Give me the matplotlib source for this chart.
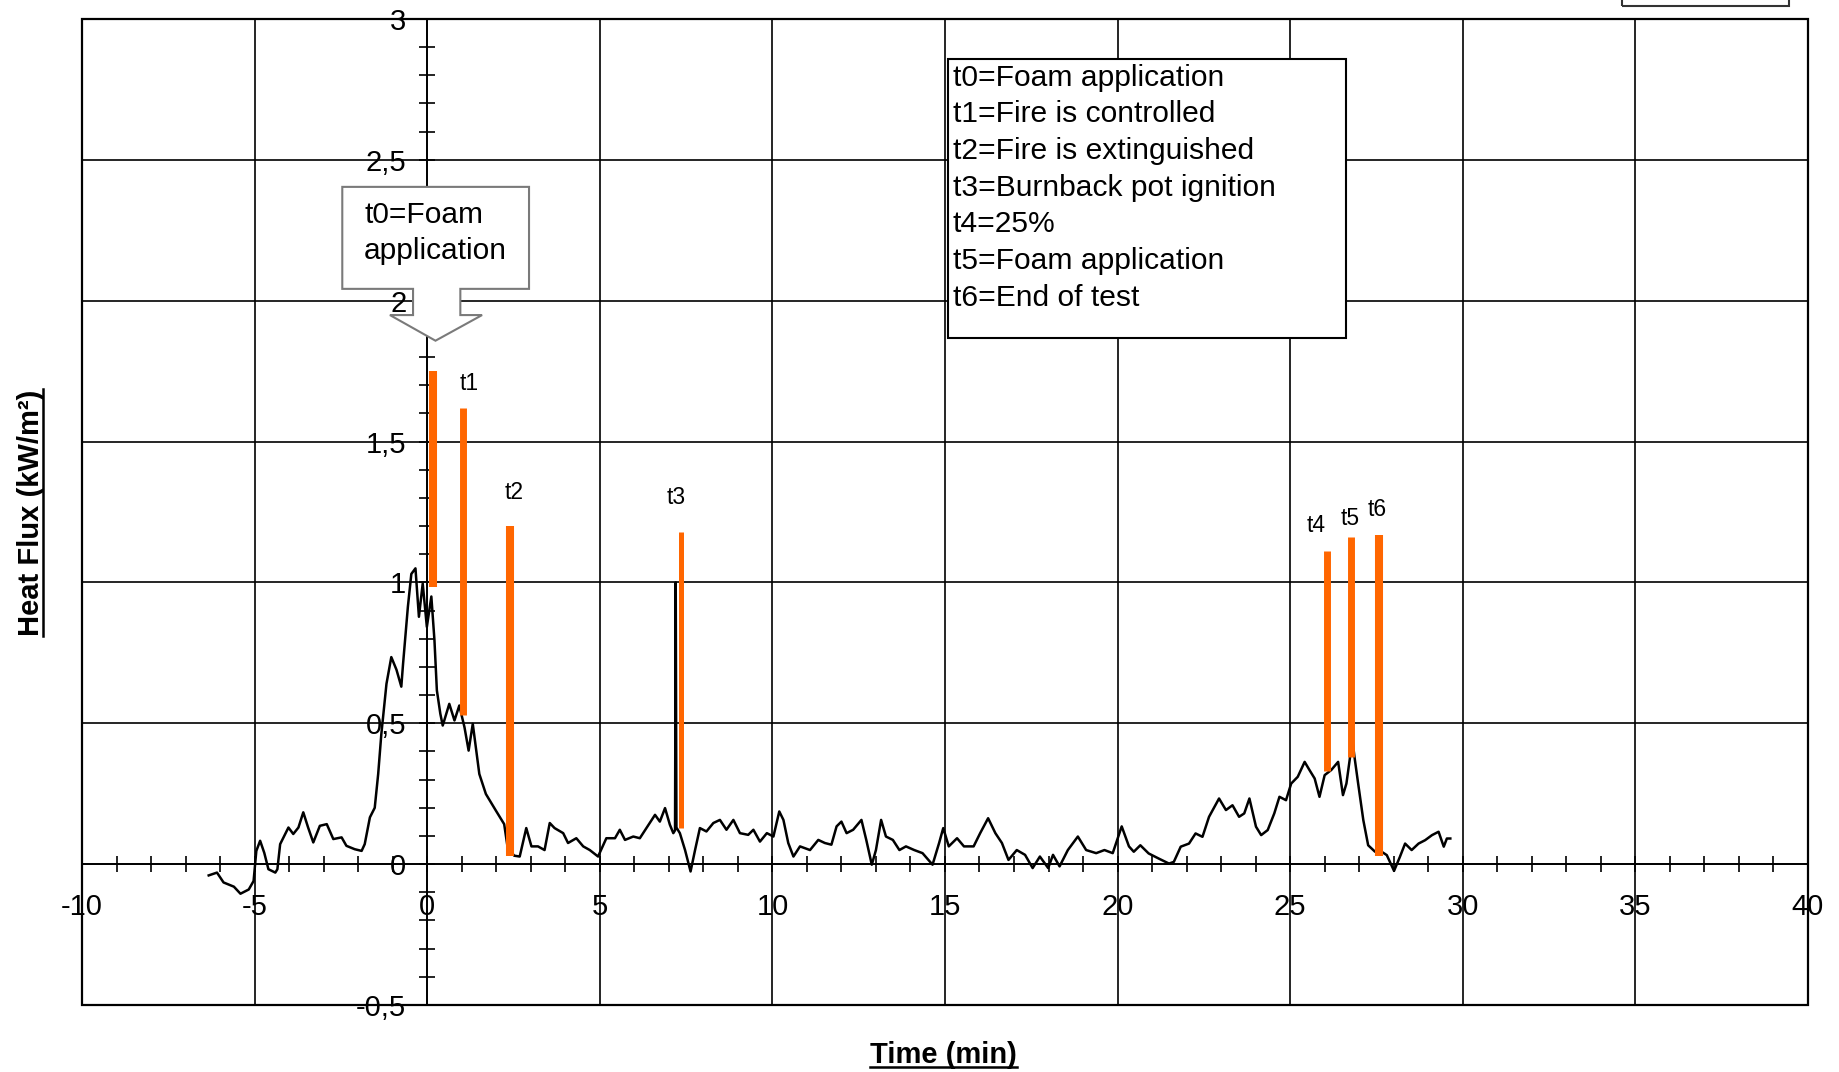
import numpy as np
import matplotlib.pyplot as plt
from matplotlib.patches import Polygon, Rectangle
from matplotlib.lines import Line2D
from matplotlib.ticker import MultipleLocator, FuncFormatter

plt.rcParams['font.family'] = ['Liberation Sans', 'DejaVu Sans']

# heat flux curve
time_min = [
    -6.33, -6.09, -5.9, -5.6, -5.41, -5.17, -5.03, -4.95, -4.84, -4.72,
    -4.6, -4.4, -4.34, -4.26, -4.02, -3.88, -3.73, -3.59, -3.45, -3.3,
    -3.11, -2.91, -2.72, -2.48, -2.34, -2.1, -1.9, -1.81, -1.66, -1.52,
    -1.42, -1.33, -1.23, -1.18, -1.04, -0.89, -0.75, -0.7, -0.56, -0.46,
    -0.34, -0.24, -0.13, -0.01, 0.12, 0.21, 0.28, 0.38, 0.45, 0.64,
    0.79, 0.93, 1.08, 1.2, 1.32, 1.51, 1.7, 1.99, 2.23, 2.33, 2.52,
    2.68, 2.87, 3.02, 3.21, 3.4, 3.55, 3.69, 3.94, 4.08, 4.32,
    4.52, 4.71, 4.95, 5.19, 5.44, 5.58, 5.73, 5.97, 6.16, 6.35,
    6.6, 6.74, 6.89, 7.03, 7.13, 7.18, 7.2, 7.22, 7.32, 7.47,
    7.63, 7.76, 7.9, 8.09, 8.29, 8.48, 8.67, 8.87, 9.06, 9.3,
    9.45, 9.64, 9.84, 10.03, 10.2, 10.32, 10.46, 10.61, 10.8, 11.09,
    11.33, 11.52, 11.71, 11.86, 12.0, 12.15, 12.34, 12.58, 12.72, 12.88,
    13.0, 13.15, 13.29, 13.49, 13.68, 13.87, 14.11, 14.35, 14.64, 14.83,
    14.95, 15.11, 15.35, 15.55, 15.83, 16.02, 16.25, 16.46, 16.65, 16.84,
    17.08, 17.32, 17.54, 17.75, 17.99, 18.13, 18.32, 18.56, 18.85, 19.09,
    19.38, 19.62, 19.86, 20.12, 20.33,
    20.47, 20.66, 20.9, 21.19, 21.49, 21.63, 21.83, 22.07, 22.26, 22.46,
    22.65, 22.94, 23.14, 23.33, 23.52, 23.67, 23.82, 24.01, 24.16, 24.35,
    24.54, 24.69, 24.88, 25.03, 25.22, 25.42, 25.56, 25.71, 25.85, 26.0,
    26.19, 26.39, 26.53, 26.63, 26.73, 26.78, 26.87, 26.97, 27.12, 27.26,
    27.46, 27.65, 27.8, 28.01, 28.18, 28.33, 28.52, 28.72, 28.91, 29.11,
    29.3, 29.45, 29.54, 29.64]
heat_flux = [
    -0.04, -0.03, -0.065, -0.08, -0.105, -0.09, -0.06, 0.047, 0.083, 0.04,
    -0.018, -0.03, -0.018, 0.071, 0.13, 0.107, 0.13, 0.184, 0.13, 0.077,
    0.136, 0.142, 0.089, 0.095, 0.065, 0.053, 0.047, 0.071, 0.166, 0.2,
    0.32, 0.46, 0.58, 0.64, 0.735, 0.69, 0.63, 0.71, 0.913, 1.03,
    1.05, 0.878, 0.996, 0.842, 0.95, 0.795, 0.617, 0.534, 0.492, 0.569,
    0.51, 0.563, 0.486, 0.403, 0.498, 0.32, 0.249, 0.19, 0.142, 0.059, 0.03,
    0.027, 0.128, 0.063, 0.063, 0.05, 0.146, 0.128, 0.11, 0.075, 0.092,
    0.063, 0.05, 0.027, 0.092, 0.092, 0.122, 0.086, 0.098, 0.092, 0.128,
    0.175, 0.151, 0.199, 0.14, 0.11, 0.12, 1.0, 0.13, 0.11, 0.05,
    -0.026, 0.05, 0.128, 0.116, 0.146, 0.157, 0.122, 0.157, 0.11, 0.104,
    0.122, 0.08, 0.11, 0.098, 0.187, 0.157, 0.075, 0.027, 0.063, 0.05,
    0.086, 0.075, 0.069, 0.134, 0.151, 0.11, 0.122, 0.157, 0.086, -0.002,
    0.05, 0.157, 0.098, 0.086, 0.05, 0.063, 0.05, 0.039, -0.002, 0.075,
    0.128, 0.063, 0.092, 0.063, 0.063, 0.11, 0.163, 0.11, 0.075, 0.015,
    0.05, 0.033, -0.014, 0.027, -0.014, 0.033, -0.008, 0.05, 0.098, 0.05,
    0.039, 0.05, 0.039, 0.134, 0.063,
    0.044, 0.067, 0.038, 0.02, 0.002, 0.008, 0.062, 0.073, 0.109, 0.097,
    0.168, 0.233, 0.192, 0.209, 0.168, 0.18, 0.233, 0.133, 0.103, 0.121,
    0.18, 0.239, 0.227, 0.286, 0.31, 0.363, 0.334, 0.304, 0.239, 0.316,
    0.334, 0.363, 0.245, 0.286, 0.375, 0.464, 0.375, 0.286, 0.156, 0.067,
    0.044, 0.044, 0.032, -0.024, 0.026, 0.073, 0.05, 0.073, 0.085, 0.103,
    0.115, 0.062, 0.091, 0.091]

# event markers (orange bars)
event_names = ['t0', 't1', 't2', 't3', 't4', 't5', 't6']
event_time = [0.16, 1.04, 2.40, 7.35, 26.07, 26.76, 27.58]
event_top = [1.75, 1.62, 1.20, 1.18, 1.11, 1.16, 1.17]
event_bottom = [0.985, 0.53, 0.03, 0.13, 0.33, 0.38, 0.03]
label_time = [None, 1.22, 2.51, 7.20, 25.75, 26.74, 27.52]
label_flux = [None, 1.706, 1.318, 1.302, 1.202, 1.227, 1.260]
bar_lw = [5.8, 5.0, 5.8, 3.6, 5.0, 5.0, 5.8]

legend_lines = ['t0=Foam application', 't1=Fire is controlled',
                't2=Fire is extinguished', 't3=Burnback pot ignition',
                't4=25%', 't5=Foam application', 't6=End of test']

fig = plt.figure(figsize=(18.39, 10.72), dpi=100)
ax = fig.add_axes([0.0446, 0.0625, 0.9385, 0.9198])

ax.set_xlim(-10, 40)
ax.set_ylim(-0.5, 3)

ax.plot(time_min, heat_flux, color='black', lw=1.8, zorder=3)

for i in range(len(event_names)):
    ax.vlines(event_time[i], event_bottom[i], event_top[i], color='#ff6600',
              lw=bar_lw[i], zorder=4)
    if label_time[i] is not None:
        ax.text(label_time[i], label_flux[i], event_names[i], fontsize=16.5,
                ha='center', va='center', zorder=5)

# callout arrow for t0
callout = [(-2.46, 2.404), (2.95, 2.404), (2.95, 2.042), (0.96, 2.042),
           (0.96, 1.949), (1.59, 1.949), (0.24, 1.858), (-1.08, 1.949),
           (-0.41, 1.949), (-0.41, 2.042), (-2.46, 2.042)]
ax.add_patch(Polygon(callout, closed=True, fc='white', ec='#7a7a7a', lw=1.5, zorder=6))
ax.text(-1.83, 2.305, 't0=Foam', fontsize=21.5, va='center', zorder=7)
ax.text(-1.83, 2.176, 'application', fontsize=21.5, va='center', zorder=7)

# legend text box
ax.add_patch(Rectangle((15.08, 1.868), 11.55, 0.991, fc='white', ec='black',
                       lw=1.5, zorder=6))
for k, line in enumerate(legend_lines):
    ax.text(15.22, 2.792 - k * 0.1303, line, fontsize=21.6, va='center', zorder=7)

# axes through the origin, full frame around
ax.spines['left'].set_position(('data', 0))
ax.spines['bottom'].set_position(('data', 0))
for s in ax.spines.values():
    s.set_linewidth(1.3)
ax.add_patch(Rectangle((0, 0), 1, 1, transform=ax.transAxes, fill=False,
                       ec='black', lw=1.6, clip_on=False, zorder=2.6))

ax.xaxis.set_major_locator(MultipleLocator(5))
ax.xaxis.set_minor_locator(MultipleLocator(1))
ax.yaxis.set_major_locator(MultipleLocator(0.5))
ax.yaxis.set_minor_locator(MultipleLocator(0.1))
fmt = FuncFormatter(lambda v, p: f'{v:g}'.replace('.', ','))
ax.xaxis.set_major_formatter(fmt)
ax.yaxis.set_major_formatter(fmt)
ax.tick_params(which='both', direction='inout', length=12, width=1.2)
ax.tick_params(axis='x', pad=15, labelsize=21)
ax.tick_params(axis='y', pad=9, labelsize=21)
ax.grid(True, which='major', color='black', lw=1.2)
ax.set_axisbelow(True)

xl = fig.text(0.513, 0.016, 'Time (min)', fontsize=21, fontweight='bold',
              ha='center', va='center')
yl = fig.text(0.0166, 0.522, 'Heat Flux (kW/m²)', fontsize=21, fontweight='bold',
              rotation=90, ha='center', va='center')

# box cut off at the top right corner
fig.add_artist(Rectangle((0.8818, 0.9944), 0.0911, 0.05, transform=fig.transFigure,
                         fill=False, ec='#333333', lw=1.5))

# underline the axis titles
fig.canvas.draw()
r = fig.canvas.get_renderer()
inv = fig.transFigure.inverted()
bb = xl.get_window_extent(r).transformed(inv)
fig.add_artist(Line2D([bb.x0, bb.x1], [bb.y0 + 0.002, bb.y0 + 0.002], color='black',
                      lw=1.8, transform=fig.transFigure))
bb = yl.get_window_extent(r).transformed(inv)
fig.add_artist(Line2D([bb.x1 - 0.001, bb.x1 - 0.001], [bb.y0, bb.y1], color='black',
                      lw=1.8, transform=fig.transFigure))

fig.savefig('out.png', dpi=100)
